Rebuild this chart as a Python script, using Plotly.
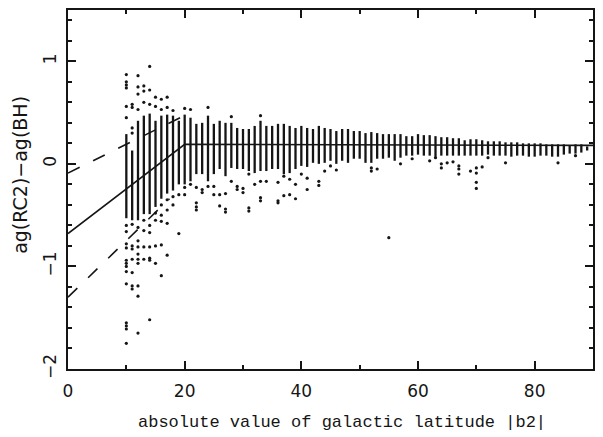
import plotly.graph_objects as go

# --- data ---
lat = list(range(10, 90))
core_lo = [-0.53, -0.55, -0.55, -0.49, -0.49, -0.42, -0.34, -0.29, -0.26, -0.20,
           -0.20, -0.17, -0.10, -0.10, -0.17, -0.10, -0.05, -0.12, -0.04, -0.05,
           -0.05, -0.07, -0.09, -0.07, -0.07, -0.05, -0.05, -0.10, -0.09, -0.05,
           -0.02, -0.03, 0.01, 0.00, 0.01, 0.03, 0.00, 0.03, 0.01, 0.05,
           0.05, 0.01, 0.01, 0.05, 0.05, 0.06, 0.03, 0.06, 0.08, 0.08,
           0.09, 0.08, 0.08, 0.07, 0.08, 0.08, 0.08, 0.08, 0.08, 0.08,
           0.08, 0.08, 0.09, 0.08, 0.08, 0.08, 0.07, 0.08, 0.08, 0.07,
           0.07, 0.08, 0.08, 0.07, 0.07, 0.09, 0.10, 0.10, 0.11, 0.13]
core_hi = [0.29, 0.13, 0.42, 0.47, 0.49, 0.42, 0.47, 0.48, 0.47, 0.42,
           0.48, 0.45, 0.39, 0.40, 0.47, 0.39, 0.42, 0.40, 0.40, 0.35,
           0.34, 0.34, 0.37, 0.42, 0.37, 0.37, 0.39, 0.39, 0.37, 0.35,
           0.37, 0.35, 0.34, 0.37, 0.35, 0.34, 0.32, 0.34, 0.34, 0.32,
           0.32, 0.30, 0.31, 0.30, 0.29, 0.29, 0.29, 0.29, 0.27, 0.27,
           0.29, 0.28, 0.28, 0.27, 0.26, 0.26, 0.25, 0.25, 0.23, 0.24,
           0.24, 0.23, 0.22, 0.22, 0.22, 0.21, 0.21, 0.21, 0.20, 0.20,
           0.20, 0.20, 0.19, 0.19, 0.19, 0.19, 0.18, 0.19, 0.19, 0.17]

out_x = ([10] * 19 + [11] * 11 + [12] * 13 + [13] * 7 + [14] * 9 + [15] * 6 +
         [16] * 7 + [17] * 6 + [18] * 3 + [19] * 2 + [20] * 3 + [21] * 2 +
         [22] * 4 + [23] * 2 + [24] * 2 + [25] * 2 + [26] * 2 + [27] * 3 +
         [28] * 2 + [29] * 2 + [30] * 2 + [31] * 3 + [32] + [33] * 4 + [34] +
         [36] * 3 + [37] * 2 + [38] * 2 + [39] * 2 + [40] + [41] * 2 + [43] * 2 +
         [44] + [45] + [46] + [52] * 2 + [53] + [55] + [57] + [59] + [62] + [63] +
         [64] * 2 + [65] + [66] + [67] * 3 + [69] + [70] * 4 + [71] + [72] + [75] +
         [84] + [87])
out_y = [0.87, 0.80, 0.77, 0.74, 0.56, 0.45, -0.60, -0.66, -0.78, -0.82, -0.94, -0.97,
         -1.00, -1.05, -1.17, -1.55, -1.58, -1.61, -1.75,
         0.58, 0.55, 0.35, 0.30, -0.59, -0.80, -0.83, -0.93, -1.06, -1.19, -1.22,
         0.86, 0.75, 0.68, 0.53, -0.62, -0.75, -0.81, -0.88, -0.93, -0.97, -1.19, -1.29, -1.65,
         0.76, 0.71, 0.60, -0.55, -0.65, -0.81, -0.93,
         0.95, 0.72, 0.58, -0.60, -0.67, -0.81, -0.92, -0.94, -1.52,
         0.65, 0.56, -0.48, -0.55, -0.80, -0.97,
         0.63, 0.53, -0.40, -0.50, -0.56, -0.79, -1.09,
         0.65, 0.55, -0.35, -0.45, -0.58, -0.89,
         0.52, -0.32, -0.40,
         -0.30, -0.68,
         0.54, -0.23, -0.30,
         0.53, -0.20,
         -0.23, -0.38, -0.42, -0.45,
         -0.25, -0.28,
         0.55, -0.22,
         -0.22, -0.30,
         -0.30, -0.41,
         -0.29, -0.44, -0.47,
         0.46, -0.17,
         -0.22, -0.25,
         -0.24, -0.28,
         -0.10, -0.43, -0.46,
         -0.20,
         0.47, -0.17, -0.33, -0.36,
         -0.17,
         -0.18, -0.36, -0.38,
         -0.12, -0.31,
         -0.15, -0.30,
         -0.20, -0.34,
         -0.10,
         -0.14, -0.25,
         -0.17, -0.21,
         -0.07, -0.02, -0.06,
         -0.04, -0.07, -0.05,
         -0.72,
         0.00, 0.05, 0.03, 0.06,
         0.00, -0.04, 0.01, 0.02,
         -0.02, -0.05, -0.10,
         -0.07,
         -0.04, -0.09, -0.18, -0.24,
         -0.03, 0.06, 0.01, 0.01, 0.08]

fit_x = [0, 20, 90]
fit_y = [-0.68, 0.19, 0.18]
upper_x = [0, 21]
upper_y = [-0.09, 0.50]
lower_x = [0, 17.4]
lower_y = [-1.30, -0.34]

x_ticks = [0, 20, 40, 60, 80]
y_ticks = [-2, -1, 0, 1]
y_tick_text = ["\u22122", "\u22121", "0", "1"]
x_title = "absolute value of galactic latitude |b2|"
y_title = "ag(RC2)\u2212ag(BH)"

# --- build figure ---
bar_x, bar_y = [], []
for b, lo, hi in zip(lat, core_lo, core_hi):
    bar_x += [b, b, None]
    bar_y += [lo, hi, None]

ink = "#151515"
fig = go.Figure()
fig.add_trace(go.Scatter(x=bar_x, y=bar_y, mode="lines",
                         line=dict(color=ink, width=2.3),
                         hoverinfo="skip", showlegend=False))
fig.add_trace(go.Scatter(x=out_x, y=out_y, mode="markers",
                         marker=dict(color=ink, size=3.2),
                         showlegend=False))
fig.add_trace(go.Scatter(x=fit_x, y=fit_y, mode="lines",
                         line=dict(color=ink, width=1.6), showlegend=False))
for xs, ys in ((upper_x, upper_y), (lower_x, lower_y)):
    fig.add_trace(go.Scatter(x=xs, y=ys, mode="lines",
                             line=dict(color=ink, width=1.6, dash="13px,15px"),
                             showlegend=False))

axis_common = dict(showline=True, linecolor=ink, linewidth=1.8, mirror="ticks",
                   ticks="inside", ticklen=8, tickwidth=1.5, tickcolor=ink,
                   showgrid=False, zeroline=False,
                   tickfont=dict(family="DejaVu Sans", size=17, color=ink))
fig.update_xaxes(range=[0, 90], tickvals=x_ticks,
                 minor=dict(dtick=10, tick0=0, ticks="inside", ticklen=4, tickcolor=ink),
                 ticklabelstandoff=6, **axis_common)
fig.update_yaxes(range=[-2, 1.5], tickvals=y_ticks, tickangle=-90,
                 tickmode="array", ticktext=y_tick_text,
                 minor=dict(dtick=0.2, tick0=0, ticks="inside", ticklen=4, tickcolor=ink),
                 ticklabelstandoff=3, **axis_common)

fig.update_layout(
    width=603, height=437,
    margin=dict(l=68, r=8, t=10, b=68),
    paper_bgcolor="white", plot_bgcolor="white",
    annotations=[
        dict(text=x_title, xref="paper", yref="paper", x=0.522, y=-0.150,
             xanchor="center", yanchor="middle", showarrow=False,
             font=dict(family="Liberation Mono", size=17, color=ink)),
        dict(text=y_title, xref="paper", yref="paper", x=-0.092, y=0.54,
             xanchor="center", yanchor="middle", showarrow=False, textangle=-90,
             font=dict(family="DejaVu Sans", size=19, color=ink)),
    ],
)

fig.write_html("out.html", config={"displayModeBar": False},
               post_script="document.body.style.margin='0';")
